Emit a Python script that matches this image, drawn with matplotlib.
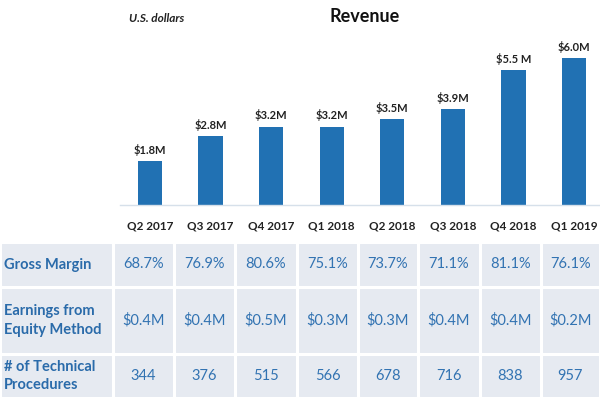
import matplotlib.pyplot as plt

plt.rcParams['font.family'] = ['Lato', 'DejaVu Sans']

# data
quarters = ['Q2 2017', 'Q3 2017', 'Q4 2017', 'Q1 2018', 'Q2 2018', 'Q3 2018', 'Q4 2018', 'Q1 2019']
revenue = [1.8, 2.8, 3.2, 3.2, 3.5, 3.9, 5.5, 6.0]
revenue_labels = ['$1.8M', '$2.8M', '$3.2M', '$3.2M', '$3.5M', '$3.9M', '$5.5 M', '$6.0M']
row_names = ['Gross Margin', 'Earnings from\nEquity Method', '# of Technical\nProcedures']
gross_margin = ['68.7%', '76.9%', '80.6%', '75.1%', '73.7%', '71.1%', '81.1%', '76.1%']
equity_earnings = ['$0.4M', '$0.4M', '$0.5M', '$0.3M', '$0.3M', '$0.4M', '$0.4M', '$0.2M']
procedures = ['344', '376', '515', '566', '678', '716', '838', '957']

W, H = 600, 398
fig = plt.figure(figsize=(W / 100, H / 100), dpi=100)

bar_color = '#2171B3'
blue_text = '#3273B2'
label_blue = '#2A6BAA'

# Revenue bars
ax = fig.add_axes([120 / W, (H - 205) / H, 480 / W, 165 / H])
x = list(range(len(quarters)))
ax.bar(x, revenue, width=0.4, color=bar_color)
for xi, v, lab in zip(x, revenue, revenue_labels):
    ax.text(xi, v + 0.22, lab, ha='center', va='bottom', fontsize=8,
            fontweight='bold', color='#222222')
ax.set_xlim(-0.495, 7.43)
ax.set_ylim(0, 165 / 24.5)
ax.set_xticks(x)
ax.set_xticklabels(quarters, fontsize=8.5, fontweight='bold', color='#222222')
ax.tick_params(axis='x', length=0, pad=11)
ax.set_yticks([])
for s in ['top', 'right', 'left']:
    ax.spines[s].set_visible(False)
ax.spines['bottom'].set_color('#D6E0EA')
ax.spines['bottom'].set_linewidth(1)

fig.text(365 / W, 1 - 16 / H, 'Revenue', ha='center', va='center',
         fontsize=13, fontweight='bold', color='#111111')
fig.text(129 / W, 1 - 18 / H, 'U.S. dollars', ha='left', va='center',
         fontsize=8.5, fontweight='bold', style='italic', color='#222222')

# Table below
tax = fig.add_axes([0, 0, 1, 156 / H])
tax.axis('off')
cell_text = [[row_names[0]] + gross_margin,
             [row_names[1]] + equity_earnings,
             [row_names[2]] + procedures]
tbl = tax.table(cellText=cell_text, bbox=[0, 0, 1, 1], cellLoc='center')
tbl.auto_set_font_size(False)
col_widths = [113, 61, 61, 62, 61, 60, 62, 61, 59]
row_heights = [45, 67, 44]
for (r, c), cell in tbl.get_celld().items():
    cell.set_width(col_widths[c])
    cell.set_height(row_heights[r])
    cell.set_facecolor('#E6EAF1')
    cell.set_edgecolor('white')
    cell.set_linewidth(2.2)
    t = cell.get_text()
    if c == 0:
        cell._loc = 'left'
        cell.PAD = 0.035
        t.set_ha('left')
        t.set_fontsize(10.5)
        t.set_fontweight('bold')
        t.set_linespacing(1.4)
        t.set_color(label_blue)
    else:
        t.set_fontsize(10.5)
        t.set_color(blue_text)

fig.savefig('out.png', dpi=100)
